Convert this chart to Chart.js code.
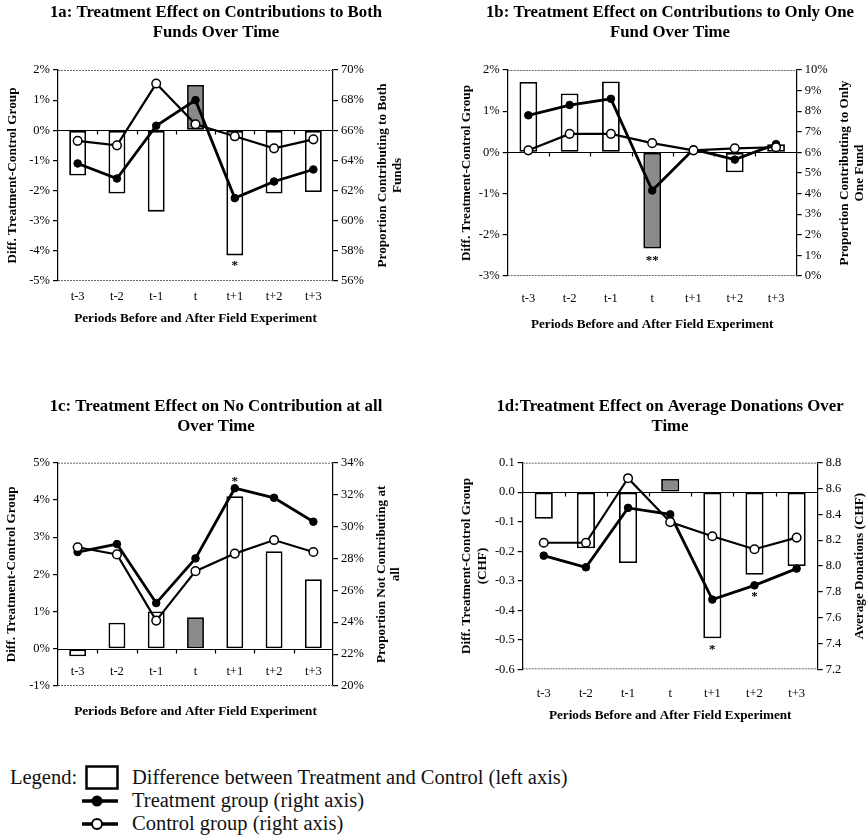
<!DOCTYPE html>
<html>
<head>
<meta charset="utf-8">
<script src="https://cdn.jsdelivr.net/npm/chart.js@4.4.1/dist/chart.umd.min.js"></script>
<style>
  body { margin: 0; background: #fff; }
  #page { position: relative; width: 867px; height: 839px; overflow: hidden; font-family: "Liberation Serif", "Times New Roman", serif; color: #111; }
  canvas { position: absolute; }
  .row { position: absolute; white-space: nowrap; font-size: 20.5px; line-height: 20px; }
  .sym { position: absolute; }
</style>
</head>
<body>
<div id="page">
  <canvas id="c1a" width="432" height="340" style="left:0;top:0"></canvas>
  <canvas id="c1b" width="435" height="340" style="left:432px;top:0"></canvas>
  <canvas id="c1c" width="432" height="345" style="left:0;top:394px"></canvas>
  <canvas id="c1d" width="435" height="345" style="left:432px;top:394px"></canvas>

  <div class="row" style="left:10px;top:767px">Legend:</div>
  <svg class="sym" style="left:85px;top:765px" width="34" height="26"><rect x="1.5" y="1.5" width="31" height="22" fill="#fff" stroke="#000" stroke-width="2.5"/></svg>
  <div class="row" style="left:132px;top:767px">Difference between Treatment and Control (left axis)</div>
  <svg class="sym" style="left:81px;top:791px" width="38" height="20"><line x1="1" y1="10" x2="37" y2="10" stroke="#000" stroke-width="3.5"/><circle cx="16" cy="10" r="5.5" fill="#000"/></svg>
  <div class="row" style="left:132px;top:790px">Treatment group (right axis)</div>
  <svg class="sym" style="left:81px;top:814px" width="38" height="20"><line x1="1" y1="10" x2="37" y2="10" stroke="#000" stroke-width="3.5"/><circle cx="16" cy="10" r="5" fill="#fff" stroke="#000" stroke-width="2"/></svg>
  <div class="row" style="left:132px;top:813px">Control group (right axis)</div>
</div>
<script>
const periods = ["t-3", "t-2", "t-1", "t", "t+1", "t+2", "t+3"];

// 1a: contributions to both funds
const diffBoth = [-1.5, -2.1, -2.7, 1.5, -4.15, -2.1, -2.05];
const treatBoth = [63.8, 62.8, 66.3, 68.0, 61.5, 62.6, 63.4];
const ctrlBoth = [65.3, 65.0, 69.1, 66.4, 65.6, 64.8, 65.4];
const starsBoth = [{i: 4, text: "*", y: -4.41}];

// 1b: contributions to only one fund
const diffOne = [1.71, 1.43, 1.72, -2.33, 0.03, -0.48, 0.2];
const treatOne = [7.8, 8.3, 8.6, 4.15, 6.15, 5.65, 6.4];
const ctrlOne = [6.1, 6.9, 6.9, 6.45, 6.1, 6.2, 6.25];
const starsOne = [{i: 3, text: "**", y: -2.56}];

// 1c: no contribution at all
const diffNone = [-0.2, 0.7, 1.0, 0.85, 4.1, 2.62, 1.87];
const treatNone = [28.4, 28.9, 25.2, 28.0, 32.4, 31.8, 30.3];
const ctrlNone = [28.7, 28.25, 24.1, 27.2, 28.3, 29.15, 28.4];
const starsNone = [{i: 4, text: "*", y: 4.56}];

// 1d: average donations (CHF)
const diffDon = [-0.09, -0.19, -0.24, 0.045, -0.495, -0.28, -0.25];
const treatDon = [8.08, 7.99, 8.45, 8.40, 7.74, 7.85, 7.98];
const ctrlDon = [8.18, 8.18, 8.68, 8.34, 8.23, 8.13, 8.22];
const starsDon = [{i: 4, text: "*", y: -0.525}, {i: 5, text: "*", y: -0.345}];

const serif = '"Liberation Serif", "Times New Roman", serif';
Chart.defaults.font.family = serif;
Chart.defaults.color = "#000";

const pct = v => v + "%";
const dec = v => v.toFixed(1);

// frame, zero line, axis titles and significance stars
const panelDecor = {
    id: "panelDecor",
    beforeDatasetsDraw(chart, args, o) {
        const {ctx, chartArea: a, scales} = chart;
        const y0 = Math.round(scales.y.getPixelForValue(0)) + 0.5;
        ctx.save();
        ctx.strokeStyle = "#666";
        ctx.lineWidth = 1;
        ctx.setLineDash([2, 1]);
        ctx.beginPath();
        ctx.moveTo(a.left, a.top + 0.5); ctx.lineTo(a.right, a.top + 0.5);
        ctx.moveTo(a.left, a.bottom - 0.5); ctx.lineTo(a.right, a.bottom - 0.5);
        ctx.stroke();
        ctx.setLineDash([]);
        ctx.strokeStyle = "#000";
        ctx.lineWidth = 1.2;
        ctx.beginPath();
        ctx.moveTo(a.left, y0); ctx.lineTo(a.right, y0);
        const step = (a.right - a.left) / periods.length;
        for (let i = 1; i < periods.length; i++) {
            const x = Math.round(a.left + i * step) + 0.5;
            ctx.moveTo(x, y0); ctx.lineTo(x, y0 + 4);
        }
        ctx.stroke();
        ctx.restore();
    },
    afterDraw(chart, args, o) {
        const {ctx, chartArea: a, scales} = chart;
        const cy = (a.top + a.bottom) / 2;
        ctx.save();
        ctx.fillStyle = "#000";
        ctx.textAlign = "center";
        ctx.textBaseline = "middle";
        ctx.font = "bold 13.2px " + serif;
        const vertical = (lines, xs) => lines.forEach((t, k) => {
            ctx.save();
            ctx.translate(xs[k], cy);
            ctx.rotate(-Math.PI / 2);
            ctx.fillText(t, 0, 0);
            ctx.restore();
        });
        vertical(o.leftTitle, o.leftX);
        vertical(o.rightTitle, o.rightX);
        ctx.font = "bold 13.2px " + serif;
        ctx.fillText("Periods Before and After Field Experiment", (a.left + a.right) / 2, o.xTitleY);
        ctx.font = "bold 13px " + serif;
        ctx.textBaseline = "alphabetic";
        o.stars.forEach(s => {
            ctx.fillText(s.text, scales.x.getPixelForValue(s.i), scales.y.getPixelForValue(s.y) + 6);
        });
        ctx.restore();
    }
};

function makePanel(id, p) {
    const tickFont = {family: serif, size: 12.5};
    return new Chart(document.getElementById(id), {
        type: "bar",
        data: {
            labels: periods,
            datasets: [
                {
                    type: "line", label: "Control group (right axis)", data: p.ctrl, yAxisID: "y1",
                    borderColor: "#000", borderWidth: 2.2, pointRadius: 4.3, pointBackgroundColor: "#fff",
                    pointBorderColor: "#000", pointBorderWidth: 1.5, order: 1
                },
                {
                    type: "line", label: "Treatment group (right axis)", data: p.treat, yAxisID: "y1",
                    borderColor: "#000", borderWidth: 2.8, pointRadius: 3.8, pointBackgroundColor: "#000",
                    pointBorderColor: "#000", pointBorderWidth: 1, order: 2
                },
                {
                    type: "bar", label: "Difference between Treatment and Control (left axis)", data: p.diff, yAxisID: "y",
                    backgroundColor: periods.map(t => t === "t" ? "#8a8a8a" : "#fff"),
                    borderColor: "#000", borderWidth: 1.8, borderSkipped: false,
                    barPercentage: 0.43, categoryPercentage: 1, order: 3
                }
            ]
        },
        options: {
            responsive: false,
            animation: false,
            devicePixelRatio: 1,
            layout: {padding: {left: p.padLeft, right: 0, top: 0, bottom: p.padBottom}},
            plugins: {
                legend: {display: false},
                tooltip: {enabled: false},
                title: {
                    display: true, text: p.title, color: "#000",
                    font: {family: serif, size: 16.8, weight: "bold", lineHeight: 20 / 16.8},
                    padding: {top: 3, bottom: p.titleGap}
                },
                panelDecor: {
                    leftTitle: p.leftTitle, leftX: p.leftX,
                    rightTitle: p.rightTitle, rightX: p.rightX,
                    xTitleY: p.xTitleY, stars: p.stars
                }
            },
            scales: {
                x: {
                    position: p.xAtZero ? {y: 0} : "bottom",
                    grid: {display: false, drawTicks: false},
                    border: {display: false},
                    ticks: {color: "#000", font: tickFont, padding: p.xTickPad},
                    afterFit: s => { if (!p.xAtZero) s.height = p.xHeight; }
                },
                y: {
                    position: "left", min: p.left[0], max: p.left[1],
                    ticks: {stepSize: p.left[2], callback: p.fmt, color: "#000", font: tickFont, padding: 3},
                    grid: {drawOnChartArea: false, drawTicks: true, tickLength: 5, color: "#000", lineWidth: 1.2},
                    border: {color: "#000", width: 1.2},
                    afterFit: s => { s.width = p.leftW; }
                },
                y1: {
                    position: "right", min: p.right[0], max: p.right[1],
                    ticks: {stepSize: p.right[2], callback: p.fmt, color: "#000", font: tickFont, padding: 3},
                    grid: {drawOnChartArea: false, drawTicks: true, tickLength: 5, color: "#000", lineWidth: 1.2},
                    border: {color: "#000", width: 1.2},
                    afterFit: s => { s.width = p.rightW; }
                }
            }
        },
        plugins: [panelDecor]
    });
}

makePanel("c1a", {
    title: ["1a: Treatment Effect on Contributions to Both", "Funds Over Time"],
    diff: diffBoth, treat: treatBoth, ctrl: ctrlBoth, stars: starsBoth,
    left: [-5, 2, 1], right: [56, 70, 2], fmt: pct,
    leftTitle: ["Diff. Treatment-Control Group"], leftX: [13],
    rightTitle: ["Proportion Contributing to Both", "Funds"], rightX: [383, 398],
    padLeft: 0, padBottom: 0, titleGap: 27, leftW: 58, rightW: 99,
    xHeight: 59, xTickPad: 8, xTitleY: 319
});

makePanel("c1b", {
    title: ["1b: Treatment Effect on Contributions to Only One", "Fund Over Time"],
    diff: diffOne, treat: treatOne, ctrl: ctrlOne, stars: starsOne,
    left: [-3, 2, 1], right: [0, 10, 1], fmt: pct,
    leftTitle: ["Diff. Treatment-Control Group"], leftX: [35],
    rightTitle: ["Proportion Contributing to Only", "One Fund"], rightX: [413, 428],
    padLeft: 41, padBottom: 0, titleGap: 27, leftW: 34.7, rightW: 70.3,
    xHeight: 64, xTickPad: 15.5, xTitleY: 325
});

makePanel("c1c", {
    title: ["1c: Treatment Effect on No Contribution at all", "Over Time"],
    diff: diffNone, treat: treatNone, ctrl: ctrlNone, stars: starsNone,
    left: [-1, 5, 1], right: [20, 34, 2], fmt: pct,
    leftTitle: ["Diff. Treatment-Control Group"], leftX: [12],
    rightTitle: ["Proportion Not Contributing at", "all"], rightX: [382, 396],
    padLeft: 0, padBottom: 53, titleGap: 25.7, leftW: 58, rightW: 99,
    xAtZero: true, xTickPad: 15.5, xTitleY: 318
});

makePanel("c1d", {
    title: ["1d:Treatment Effect on Average Donations Over", "Time"],
    diff: diffDon, treat: treatDon, ctrl: ctrlDon, stars: starsDon,
    left: [-0.6, 0.1, 0.1], right: [7.2, 8.8, 0.2], fmt: dec,
    leftTitle: ["Diff. Treatment-Control Group", "(CHF)"], leftX: [35, 51],
    rightTitle: ["Average Donations (CHF)"], rightX: [428],
    padLeft: 41, padBottom: 0, titleGap: 25.7, leftW: 49.7, rightW: 49.3,
    xHeight: 69.7, xTickPad: 16.5, xTitleY: 322
});
</script>
</body>
</html>
